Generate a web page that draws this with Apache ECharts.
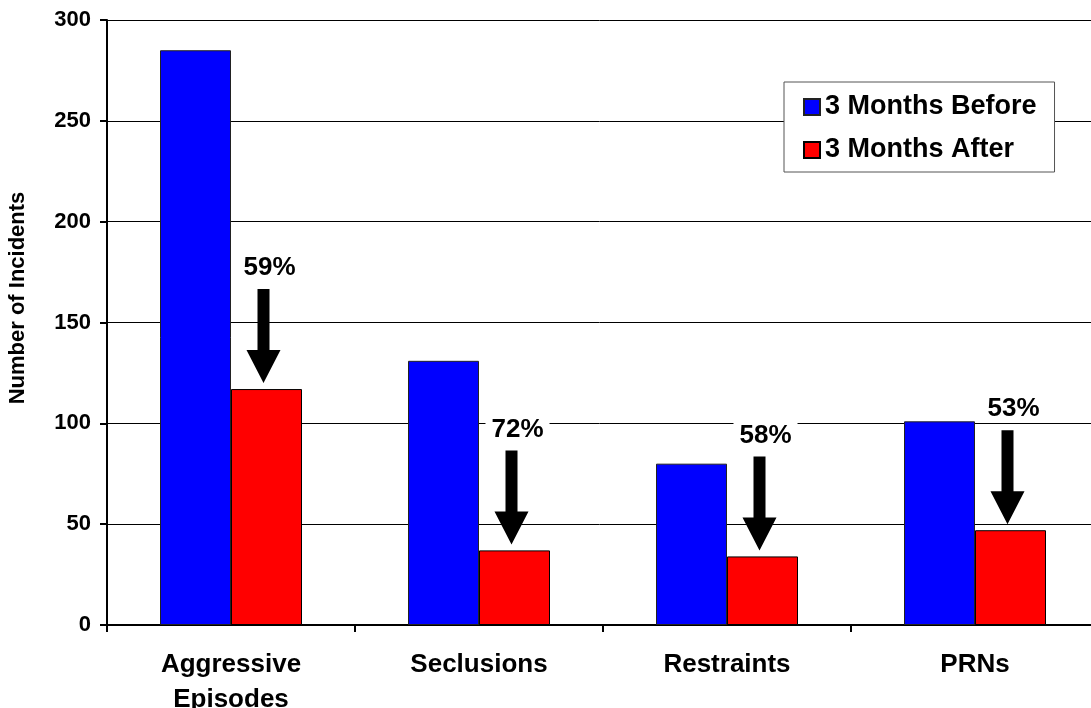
<!DOCTYPE html>
<html>
<head>
<meta charset="utf-8">
<title>Number of Incidents</title>
<script src="https://cdn.jsdelivr.net/npm/echarts@6/dist/echarts.min.js"></script>
<style>
  html, body { margin: 0; padding: 0; background: #ffffff; }
  #chart { width: 1091px; height: 708px; }
</style>
</head>
<body>
<div id="chart"></div>
<script>
// Incident counts for the three months before and after
const categories = ['Aggressive\nEpisodes', 'Seclusions', 'Restraints', 'PRNs'];
const monthsBefore = [285, 131, 80, 101];
const monthsAfter = [117, 37, 34, 47];
const reductionLabels = ['59%', '72%', '58%', '53%'];
const yTicks = { min: 0, max: 300, interval: 50 };

const FONT = "'Liberation Sans', Arial, Helvetica, sans-serif";
const BAR_WIDTH = 71;

const chart = echarts.init(document.getElementById('chart'), null, { renderer: 'canvas' });

// Down arrow with the percentage reduction above each "after" bar
function renderReduction(params, api) {
  const idx = api.value(0);
  const val = api.value(1);
  const p = api.coord([idx, val]);
  const cx = p[0] + BAR_WIDTH / 2;      // centre of the red bar
  const ax = cx - 3;                     // arrow axis
  const tipY = p[1] - 6;
  const len = 94, headH = 33, headW = 34, shaftW = 12;
  const topY = tipY - len;
  const headY = tipY - headH;
  const points = [
    [ax - shaftW / 2, topY], [ax + shaftW / 2, topY],
    [ax + shaftW / 2, headY], [ax + headW / 2, headY],
    [ax, tipY],
    [ax - headW / 2, headY], [ax - shaftW / 2, headY]
  ];
  return {
    type: 'group',
    children: [
      { type: 'polygon', shape: { points: points }, style: { fill: '#000000' } },
      {
        type: 'text',
        x: cx + 3,
        y: topY - 8,
        style: {
          text: reductionLabels[idx],
          font: 'bold 26px ' + FONT,
          fill: '#000000',
          align: 'center',
          verticalAlign: 'bottom',
          backgroundColor: '#ffffff',
          padding: [1, 6, 0, 6]
        }
      }
    ]
  };
}

const option = {
  backgroundColor: '#ffffff',
  animation: false,
  textStyle: { fontFamily: FONT },
  grid: {
    left: 107, right: -8, top: 20, bottom: 83,
    containLabel: false,
    outerBoundsMode: 'none'
  },
  legend: {
    orient: 'vertical',
    left: 784,
    top: 82,
    data: ['3 Months Before', '3 Months After'],
    icon: 'rect',
    itemWidth: 16,
    itemHeight: 16,
    itemGap: 15,
    padding: [11, 18, 8, 19],
    backgroundColor: '#ffffff',
    borderColor: '#555555',
    borderWidth: 1,
    borderRadius: 0,
    selectedMode: false,
    textStyle: {
      fontFamily: FONT,
      fontWeight: 'bold',
      fontSize: 27,
      lineHeight: 28,
      color: '#000000'
    }
  },
  xAxis: {
    type: 'category',
    data: categories,
    boundaryGap: true,
    axisLine: { show: true, lineStyle: { color: '#000000', width: 2 } },
    axisTick: { show: true, length: 7, alignWithLabel: false, lineStyle: { color: '#000000', width: 2 } },
    axisLabel: {
      margin: 22,
      color: '#000000',
      fontFamily: FONT,
      fontWeight: 'bold',
      fontSize: 26,
      lineHeight: 35,
      interval: 0
    },
    splitLine: { show: false }
  },
  yAxis: {
    type: 'value',
    min: yTicks.min,
    max: yTicks.max,
    interval: yTicks.interval,
    axisLine: { show: true, lineStyle: { color: '#000000', width: 2 } },
    axisTick: { show: true, length: 7, inside: false, lineStyle: { color: '#000000', width: 2 } },
    axisLabel: {
      margin: 16,
      color: '#000000',
      fontFamily: FONT,
      fontWeight: 'bold',
      fontSize: 22
    },
    splitLine: { show: true, lineStyle: { color: '#000000', width: 1 } }
  },
  graphic: [
    {
      type: 'text',
      x: 18,
      y: 298,
      rotation: Math.PI / 2,
      style: {
        text: 'Number of Incidents',
        font: 'bold 22px ' + FONT,
        fill: '#000000',
        align: 'center',
        verticalAlign: 'middle'
      }
    }
  ],
  series: [
    {
      name: '3 Months Before',
      type: 'bar',
      data: monthsBefore,
      barWidth: BAR_WIDTH,
      barGap: '0%',
      itemStyle: { color: '#0000ff', borderColor: '#222222', borderWidth: 1 }
    },
    {
      name: '3 Months After',
      type: 'bar',
      data: monthsAfter,
      barWidth: BAR_WIDTH,
      barGap: '0%',
      itemStyle: { color: '#ff0000', borderColor: '#000000', borderWidth: 1 }
    },
    {
      name: 'reduction',
      type: 'custom',
      renderItem: renderReduction,
      data: monthsAfter.map((v, i) => [i, v]),
      z: 5,
      silent: true,
      clip: false
    }
  ]
};

chart.setOption(option);
</script>
</body>
</html>
